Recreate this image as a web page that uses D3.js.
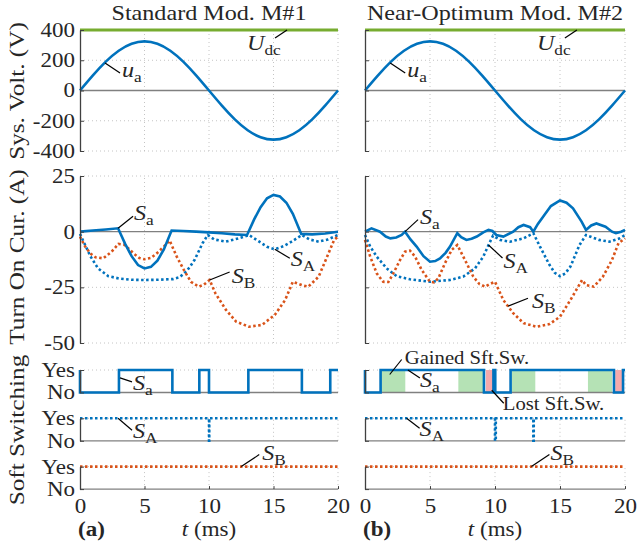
<!DOCTYPE html>
<html>
<head>
<meta charset="utf-8">
<script src="https://cdnjs.cloudflare.com/ajax/libs/d3/7.8.5/d3.min.js"></script>
<style>
body { margin: 0; background: #fff; }
svg text { font-family: "Liberation Serif", serif; fill: #262626; }
</style>
</head>
<body>
<div id="main"></div>
<script>
// axis ticks
var timeTicks = [0, 5, 10, 15, 20];
var voltTicks = [-400, -200, 0, 200, 400];
var curTicks = [-50, -25, 0, 25];
var softLabels = ["No", "Yes"];

// system voltage (same for both modulations)
var uaTime = [0, 1, 2, 3, 4, 5, 6, 7, 8, 9, 10, 11, 12, 13, 14, 15, 16, 17, 18, 19, 20];
var uaVolt = [0, 100, 191, 263, 309, 325, 309, 263, 191, 100, 0, -100, -191, -263, -309, -325, -309, -263, -191, -100, 0];
var udc = 400;

// turn-on currents [t ms, A], standard modulation M#1
var m1Sa = [[0,0],[1,0.5],[2,1],[2.95,1.5],[3.5,-5.5],[4,-11],[4.5,-15],[5,-16.5],[5.5,-15.8],[6,-13],[6.5,-8],[7.1,0.5],[8,0.3],[9,0],[10,-0.3],[11,-0.7],[12,-1.2],[12.95,-1.5],[13.5,5.5],[14,11],[14.5,15],[15,16.5],[15.5,15.8],[16,13],[16.5,8],[17.15,-1],[18,-1.2],[19,-0.8],[20,0]];
var m1SA = [[0,-1],[0.4,-6],[0.8,-11],[1.4,-16.5],[2.2,-20],[3,-21],[4,-21.6],[5,-21.7],[6,-21.6],[7.2,-21.3],[7.7,-20.5],[8.1,-18.7],[8.5,-16],[8.9,-12.5],[9.5,-5.2],[9.9,-1.5],[10.4,-3.5],[11.3,-4.5],[12.3,-3],[13.1,-1.5],[13.9,-4.5],[14.5,-6.8],[15.1,-7.9],[15.8,-6.5],[16.4,-4.5],[17.2,-1.5],[17.8,-3.5],[18.5,-4.5],[19.2,-3.5],[20,-1.5]];
var m1SB = [[0,-2.2],[0.4,-6.7],[0.8,-9.8],[1.2,-11.5],[1.8,-12],[2.45,-9],[2.98,-5.5],[3.4,-5.8],[3.75,-7.5],[4.2,-10],[4.6,-11.8],[5,-12.4],[5.5,-11.8],[6,-9.5],[6.5,-6.7],[6.95,-4],[7.5,-11.2],[8.05,-17.2],[8.6,-22.5],[9.2,-24.7],[9.6,-23.8],[10.05,-21.7],[10.5,-27.7],[11.3,-35],[12.1,-40.4],[13.1,-42.7],[14.1,-41.9],[15.1,-37.4],[15.9,-30.7],[16.5,-22.5],[17.2,-24],[17.7,-24.7],[18.5,-20.2],[19.1,-12],[19.7,-3.7],[20,-2.2]];

// turn-on currents, near-optimum modulation M#2
var m2Sa = [[0,0],[0.5,1.5],[1.15,0],[1.6,-2.2],[1.95,-3],[2.4,-2.6],[2.82,-1.5],[3.08,0],[3.5,-3.5],[3.97,-6.7],[4.5,-11],[5,-13.5],[5.4,-13.2],[5.77,-12],[6.2,-9.5],[6.54,-6.7],[7.1,-0.7],[7.4,-2.5],[7.8,-3.7],[8.2,-3.2],[8.6,-2.2],[9.1,-0.3],[9.5,0.8],[9.8,0.3],[10.1,-1.5],[10.64,-2.2],[11.4,0],[11.8,2],[12.2,3],[12.7,2],[12.95,0],[13.3,3.5],[13.7,6.7],[14.3,11.5],[15,14],[15.5,13],[16,10.5],[16.66,4.5],[17,0.8],[17.4,2.8],[17.8,3.7],[18.5,2.2],[19,0],[19.3,-0.7],[19.7,0],[20,0.8]];
var m2SA = [[0,-1.5],[0.4,-6.7],[0.9,-11.2],[1.67,-16.5],[2.44,-20],[3.46,-21.4],[5,-22.5],[6.54,-21.7],[7.56,-20.2],[8.46,-16.5],[9.1,-11.2],[9.5,-6],[9.85,-1.8],[10.4,-3.7],[11.15,-4.5],[12.2,-3],[12.95,-0.7],[13.46,-6.7],[14.2,-15],[14.6,-18.5],[15,-20],[15.4,-18.8],[15.8,-15.7],[16.5,-6],[17,-1.5],[18,-3.7],[18.8,-4.5],[19.6,-3],[20,-1.5]];
var m2SB = [[0,-3.7],[0.4,-11.2],[0.9,-18.7],[1.4,-22.5],[1.8,-22.6],[2.18,-18.7],[2.7,-12.7],[3.08,-9],[3.46,-8.5],[3.85,-11.2],[4.36,-17.2],[5,-22.5],[5.3,-22.8],[5.64,-21],[6.15,-14.2],[6.67,-8.2],[7.1,-6],[7.56,-11.2],[8.33,-20.2],[8.8,-23.5],[9.23,-24.7],[9.6,-23.5],[10,-22.5],[10.64,-30.7],[11.4,-36.6],[12.2,-41.1],[13.2,-42.7],[14.2,-41.5],[15,-38.2],[15.8,-30.7],[16.7,-21.7],[17,-24],[17.6,-24.7],[18.3,-20.2],[19,-12.7],[19.5,-5.2],[20,-3]];

// soft switching yes(1)/no(0) steps [t ms, state]
var m1SoftSa = [[0,1],[0,0],[3.02,1],[7.16,0],[9.25,1],[10,0],[13.05,1],[17.2,0],[19.4,1],[20,1]];
var m1SoftSA = [[0,1],[10,1],[10,0],[10.02,1],[20,1]];
var m1SoftSB = [[0,1],[20,1]];
var m2SoftSa = [[0,1],[0,0],[1.2,1],[9.15,0],[9.88,1],[10.02,0],[11.2,1],[19.15,0],[19.85,1],[20,1]];
var m2SoftSA = [[0,1],[10,1],[10,0],[10.06,0],[10.06,1],[12.95,1],[12.95,0],[12.98,1],[20,1]];
var m2SoftSB = [[0,1],[20,1]];
var gainedSoft = [[1.25,3.1],[7.18,9.1],[11.3,13.1],[17.15,19.0]];
var lostSoft = [[9.3,9.85],[19.25,19.8]];

var blue = "#0072BD", orange = "#D95319", green = "#77AC30";
var wide = 1.15;//text in the original is wider than Liberation Serif

var svg = d3.select("#main").append("svg")
  .attr("width", 637)
  .attr("height", 548);//create canvas

var cols = [
  {left: 80, right: 338, title: "Standard Mod. M#1", tag: "(a)", sa: m1Sa, sA: m1SA, sB: m1SB, soft: [m1SoftSa, m1SoftSA, m1SoftSB]},
  {left: 365, right: 625, title: "Near-Optimum Mod. M#2", tag: "(b)", sa: m2Sa, sA: m2SA, sB: m2SB, soft: [m2SoftSa, m2SoftSA, m2SoftSB]}
];
var yVolt = d3.scaleLinear().domain([-400, 400]).range([151, 30]);
var yCur = d3.scaleLinear().domain([-50, 25]).range([343, 176]);
var softTop = [370, 418.3, 466.6];
var ySoft = softTop.map(function(t) { return d3.scaleLinear().domain([0, 1]).range([t + 22.5, t]); });

function grid(g, x, y, yTicks) {
  var y0 = y.range()[0], y1 = y.range()[1];
  g.selectAll(null).data(timeTicks.slice(1)).enter().append("line")
    .attr("x1", function(d) { return x(d); }).attr("x2", function(d) { return x(d); })
    .attr("y1", y0).attr("y2", y1)
    .attr("stroke", "#c4c4c4").attr("stroke-dasharray", "1,3");
  g.selectAll(null).data(yTicks).enter().append("line")
    .attr("x1", x.range()[0]).attr("x2", x.range()[1])
    .attr("y1", function(d) { return y(d); }).attr("y2", function(d) { return y(d); })
    .attr("stroke", "#c4c4c4").attr("stroke-dasharray", "1,3");
  g.append("line")
    .attr("x1", x.range()[0]).attr("x2", x.range()[1])
    .attr("y1", y(0)).attr("y2", y(0))
    .attr("stroke", "#808080").attr("stroke-width", 1.3);//zero line
}

function yAxis(g, x, y, ticks, fmt) {
  var ax = d3.axisLeft(y).tickValues(ticks).tickSizeInner(-4).tickSizeOuter(0).tickPadding(5)
    .tickFormat(fmt || "");
  var a = g.append("g")
    .attr("transform", "translate(" + x.range()[0] + ",0)")
    .call(ax);
  a.attr("font-family", null).attr("font-size", null);
  a.select(".domain").attr("stroke", "#404040").attr("stroke-width", 1.3);
  a.selectAll(".tick line").attr("stroke", "#404040");
  a.selectAll("text").style("font-size", "20px").attr("fill", "#262626");
}

function curve(g, x, y, data, color, dotted, shape) {
  var line = d3.line()
    .curve(shape || d3.curveLinear)
    .x(function(d) { return x(d[0]); })
    .y(function(d) { return y(d[1]); });
  g.append("path")
    .attr("d", line(data))
    .attr("fill", "none")
    .attr("stroke", color)
    .attr("stroke-width", 2.6)
    .attr("stroke-dasharray", dotted ? "2.5,2.5" : null);
}

// label with leader line: anchor px,py; leader end (lx,ly); text offset (tx,ty)
function note(g, px, py, lx, ly, tx, ty, main, sub) {
  g.append("line")
    .attr("x1", px).attr("y1", py).attr("x2", px + lx).attr("y2", py + ly)
    .attr("stroke", "#000").attr("stroke-width", 1.2);
  var t = g.append("text").attr("x", px + tx).attr("y", py + ty);
  if (sub) {
    t.append("tspan").style("font-style", "italic").style("font-size", "21px").text(main);
    t.append("tspan").attr("dy", 5).style("font-size", "15px").text(sub);
  } else {
    t.style("font-size", "18px").text(main);
  }
}

cols.forEach(function(c, i) {
  var g = svg.append("g");
  var x = d3.scaleLinear().domain([0, 20]).range([c.left, c.right]);

  // system voltage
  grid(g, x, yVolt, [-400, -200, 200]);
  curve(g, x, yVolt, uaTime.map(function(t, k) { return [t, uaVolt[k]]; }), blue, false, d3.curveNatural);
  g.append("line")
    .attr("x1", x(0)).attr("x2", x(20)).attr("y1", yVolt(udc)).attr("y2", yVolt(udc))
    .attr("stroke", green).attr("stroke-width", 3);//DC link
  yAxis(g, x, yVolt, voltTicks, i ? null : function(d) { return String(d); });
  note(g, x(1.94), yVolt(182), 15, 10, 17, 14, "u", "a");
  note(g, x(i ? 16.3 : 16.05), yVolt(udc), -12, 8, -40, 20, "U", "dc");

  // turn-on currents
  grid(g, x, yCur, [-50, -25, 25]);
  curve(g, x, yCur, c.sA, blue, true);
  curve(g, x, yCur, c.sB, orange, true);
  curve(g, x, yCur, c.sa, blue, false);
  yAxis(g, x, yCur, curTicks, i ? null : function(d) { return String(d); });
  if (i == 0) {
    note(g, x(2.95), yCur(1.5), 15, -12, 16, -8, "S", "a");
    note(g, x(15.1), yCur(-7.9), 15, 9, 16, 17, "S", "A");
    note(g, x(10.05), yCur(-21.7), 20, -8, 22, 3, "S", "B");
  } else {
    note(g, x(3.08), yCur(0), 13, -12, 15, -8, "S", "a");
    note(g, x(9.5), yCur(-6), 14, 13, 15, 23, "S", "A");
    note(g, x(11), yCur(-33.5), 20, -8, 24, 2, "S", "B");
  }

  // soft switching
  ySoft.forEach(function(y, k) {
    if (k == 0 && i == 1) {
      g.selectAll(null).data(gainedSoft).enter().append("rect")
        .attr("x", function(d) { return x(d[0]); })
        .attr("width", function(d) { return x(d[1]) - x(d[0]); })
        .attr("y", y(1)).attr("height", y(0) - y(1))
        .attr("fill", "#b5e2b5");
      g.selectAll(null).data(lostSoft).enter().append("rect")
        .attr("x", function(d) { return x(d[0]); })
        .attr("width", function(d) { return x(d[1]) - x(d[0]); })
        .attr("y", y(1)).attr("height", y(0) - y(1))
        .attr("fill", "#f5a9ab");
    }
    grid(g, x, y, [1]);
    curve(g, x, y, c.soft[k], k == 2 ? orange : blue, k > 0, d3.curveStepAfter);
    yAxis(g, x, y, [0, 1], i ? null : function(d) { return softLabels[d]; });
  });
  if (i == 0) {
    note(g, x(3.1), ySoft[0](0.65), 12, 4, 13, 12, "S", "a");
    note(g, x(2.95), ySoft[1](1), 14, 12, 15, 20, "S", "A");
    note(g, x(12.5), ySoft[2](1), 18, -12, 21, -7, "S", "B");
  } else {
    note(g, x(1.9), ySoft[0](0.8), 12, -15, 15, -10, "Gained Sft.Sw.");
    note(g, x(3.3), ySoft[0](1), 12, 8, 12, 17, "S", "a");
    note(g, x(9.75), ySoft[0](0.1), 12, 13, 11, 20, "Lost Sft.Sw.");
    note(g, x(3.2), ySoft[1](1), 13, 10, 13, 18, "S", "A");
    note(g, x(12.8), ySoft[2](1), 18, -12, 19, -7, "S", "B");
  }

  // time axis
  var xa = g.append("g")
    .attr("transform", "translate(0," + ySoft[2](0) + ")")
    .call(d3.axisBottom(x).tickValues(timeTicks).tickSizeInner(-3).tickSizeOuter(0).tickPadding(10));
  xa.attr("font-family", null).attr("font-size", null);
  xa.select(".domain").remove();
  xa.selectAll(".tick line").attr("stroke", "#404040");
  xa.selectAll("text").style("font-size", "20px").attr("fill", "#262626");

  var xl = g.append("text")
    .attr("x", (c.left + c.right) / 2).attr("y", 536)
    .style("font-size", "20px").style("text-anchor", "middle");
  xl.append("tspan").style("font-style", "italic").text("t");
  xl.append("tspan").text(" (ms)");//x label
  g.append("text")
    .attr("x", c.left - 2).attr("y", 536)
    .style("font-size", "20px").style("font-weight", "bold")
    .text(c.tag);
  g.append("text")
    .attr("x", (c.left + c.right) / 2).attr("y", 20)
    .style("font-size", "21px").style("text-anchor", "middle")
    .text(c.title);//title
});

// widen horizontal text around its anchor x
svg.selectAll("text").each(function() {
  var x = +d3.select(this).attr("x") || 0;
  d3.select(this).attr("transform", "translate(" + x + ",0) scale(" + wide + ",1) translate(" + (-x) + ",0)");
});

// y labels
[["Sys. Volt. (V)", 91], ["Turn On Cur. (A)", 257], ["Soft Switching", 430]].forEach(function(d) {
  svg.append("text")
    .attr("transform", "translate(24," + d[1] + ") rotate(-90) scale(1.2,1)")
    .style("font-size", "21px").style("text-anchor", "middle")
    .text(d[0]);
});
</script>
</body>
</html>
